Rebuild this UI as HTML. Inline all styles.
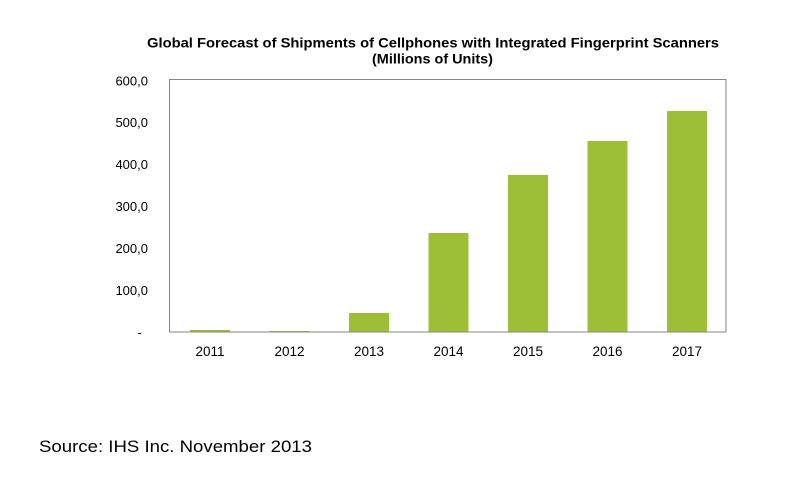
<!DOCTYPE html>
<html>
<head>
<meta charset="utf-8">
<style>
  html, body { margin: 0; padding: 0; background: #ffffff; }
  svg { display: block; }
  text { font-family: "Liberation Sans", Arial, sans-serif; fill: #000; }
</style>
</head>
<body>
<svg width="788" height="481" viewBox="0 0 788 481" xmlns="http://www.w3.org/2000/svg">
  <rect x="0" y="0" width="788" height="481" fill="#ffffff"/>
  <!-- Title -->
  <text x="433" y="47.5" font-size="14" font-weight="bold" text-anchor="middle" textLength="572" lengthAdjust="spacingAndGlyphs">Global Forecast of Shipments of Cellphones with Integrated Fingerprint Scanners</text>
  <text x="432.5" y="63.5" font-size="14" font-weight="bold" text-anchor="middle" textLength="121" lengthAdjust="spacingAndGlyphs">(Millions of Units)</text>

  <!-- Bars -->
  <g fill="#9DBF36">
    <rect x="190" y="330" width="40" height="2"/>
    <rect x="269.5" y="331" width="40" height="1"/>
    <rect x="349" y="313" width="40" height="19"/>
    <rect x="428.5" y="233" width="40" height="99"/>
    <rect x="508" y="175" width="40" height="157"/>
    <rect x="587.5" y="141" width="40" height="191"/>
    <rect x="667" y="111" width="40" height="221"/>
  </g>

  <!-- Plot border -->
  <rect x="169.5" y="79.5" width="556.5" height="252.5" fill="none" stroke="#868686" stroke-width="1"/>

  <!-- Y tick labels -->
  <g font-size="13" text-anchor="end">
    <text x="148" y="85.5">600,0</text>
    <text x="148" y="127">500,0</text>
    <text x="148" y="169">400,0</text>
    <text x="148" y="211">300,0</text>
    <text x="148" y="253">200,0</text>
    <text x="148" y="295">100,0</text>
    <text x="142" y="337">-</text>
  </g>

  <!-- X labels -->
  <g font-size="13.5" text-anchor="middle">
    <text x="210" y="356">2011</text>
    <text x="289.5" y="356">2012</text>
    <text x="369" y="356">2013</text>
    <text x="448.5" y="356">2014</text>
    <text x="528" y="356">2015</text>
    <text x="607.5" y="356">2016</text>
    <text x="687" y="356">2017</text>
  </g>

  <!-- Source -->
  <text x="39" y="452" font-size="16.5" textLength="273" lengthAdjust="spacingAndGlyphs">Source: IHS Inc. November 2013</text>
</svg>
</body>
</html>
